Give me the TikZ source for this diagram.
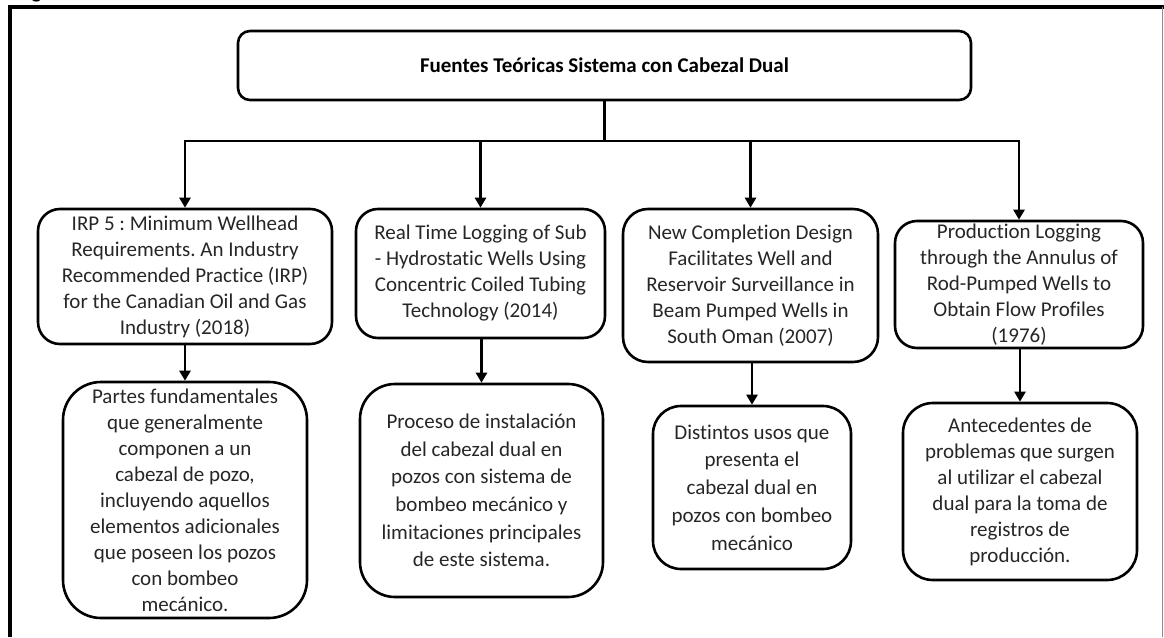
\documentclass[tikz,border=0pt]{standalone}
\usepackage{fontspec}
\setmainfont[Ligatures=NoCommon]{Carlito}
\usetikzlibrary{arrows.meta}
\definecolor{txt}{HTML}{262626}
\definecolor{frameR}{HTML}{8A8A8A}
\frenchspacing
\begin{document}
\begin{tikzpicture}[x=1pt,y=-1pt,
  box/.style={draw, line width=2.6pt, align=center, inner sep=0pt, text=txt,
    font=\fontsize{21}{26}\selectfont},
  boxw/.style={box, font=\fontsize{21}{27.7}\selectfont},
  arr/.style={line width=2.6pt, -{Triangle[width=11pt,length=10pt]}},
  ln/.style={line width=2.6pt},
  frm/.style={line width=4pt, black}]
\useasboundingbox (0,0) rectangle (1164,637);
% frame
\coordinate (ftl) at (8,7);
\coordinate (ftr) at (1163.5,7);
\coordinate (fl1) at (10.3,5);
\coordinate (fl2) at (10.3,637);
\coordinate (fr1) at (1162.4,7);
\coordinate (fr2) at (1162.4,637);
\draw[frm] (ftl) -- (ftr);
\draw[frm] (fl1) -- (fl2);
\draw[line width=1.3pt, frameR] (fr1) -- (fr2);
\node[anchor=base west, inner sep=0pt, font=\bfseries\fontsize{21}{26}\selectfont] (cap) at (16.5,-1.3) {Figura};
% title
\node[box, minimum width=733pt, minimum height=69pt, rounded corners=12pt, text=black,
  font=\bfseries\fontsize{21}{26}\selectfont] (t) at (604.5,65.5) {Fuentes Teóricas Sistema con Cabezal Dual};
% row 1
\node[box, minimum width=294pt, minimum height=135pt, rounded corners=22pt] (b1) at (185,276.5)
  {IRP 5 : Minimum Wellhead\\Requirements. An Industry\\Recommended Practice (IRP)\\for the Canadian Oil and Gas\\Industry (2018)};
\node[box, minimum width=249pt, minimum height=129pt, rounded corners=22pt] (b2) at (480.5,273.5)
  {Real Time Logging of Sub\\- Hydrostatic Wells Using\\Concentric Coiled Tubing\\Technology (2014)};
\node[box, minimum width=255pt, minimum height=153pt, rounded corners=25pt] (b3) at (750.5,285.5)
  {New Completion Design\\Facilitates Well and\\Reservoir Surveillance in\\Beam Pumped Wells in\\South Oman (2007)};
\node[box, minimum width=248pt, minimum height=127pt, rounded corners=22pt] (b4) at (1019,284.5)
  {Production Logging\\through the Annulus of\\Rod-Pumped Wells to\\Obtain Flow Profiles\\(1976)};
% row 2
\node[box, minimum width=244pt, minimum height=236pt, rounded corners=38pt] (b5) at (185,500)
  {Partes fundamentales\\que generalmente\\componen a un\\cabezal de pozo,\\incluyendo aquellos\\elementos adicionales\\que poseen los pozos\\con bombeo\\mecánico.};
\node[boxw, minimum width=243pt, minimum height=213pt, rounded corners=35pt] (b6) at (481.5,490.5)
  {Proceso de instalación\\del cabezal dual en\\pozos con sistema de\\bombeo mecánico y\\limitaciones principales\\de este sistema.};
\node[boxw, minimum width=198pt, minimum height=163pt, rounded corners=28pt] (b7) at (752,487.5)
  {Distintos usos que\\presenta el\\cabezal dual en\\pozos con bombeo\\mecánico};
\node[box, minimum width=234pt, minimum height=177pt, rounded corners=30pt] (b8) at (1020,491.5)
  {Antecedentes de\\problemas que surgen\\al utilizar el cabezal\\dual para la toma de\\registros de\\producción.};
% connectors
\coordinate (j) at (604.5,141);
\draw[ln] (t.south) -- (j);
\draw[arr] (j) -| (b1.north);
\draw[arr] (j) -| (b4.north);
\draw[arr] (b2.north |- j) -- (b2.north);
\draw[arr] (b3.north |- j) -- (b3.north);
\draw[arr] (b1.south) -- (b5.north);
\draw[arr] (b6.north |- b2.south) -- (b6.north);
\draw[arr] (b7.north |- b3.south) -- (b7.north);
\draw[arr] (b8.north |- b4.south) -- (b8.north);
\end{tikzpicture}
\end{document}
